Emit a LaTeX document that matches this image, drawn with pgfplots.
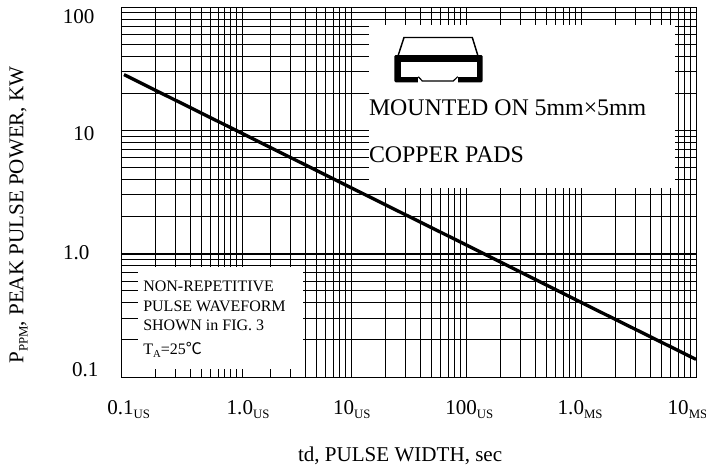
\documentclass[border=0pt]{standalone}
\usepackage{pgfplots}
\pgfplotsset{compat=1.18}
\usepackage{fontspec}
\setmainfont{Liberation Serif}
\newfontfamily\cjk{Noto Sans CJK SC}
\newcommand{\lab}{\fontsize{15.8pt}{18pt}\selectfont}
\newcommand{\sub}[1]{\raisebox{-0.2em}{\fontsize{9.6pt}{11pt}\selectfont #1}}
\begin{document}
\begin{tikzpicture}
\useasboundingbox (-90.75pt,-69pt) rectangle (438.75pt,282.75pt);
\begin{axis}[
  scale only axis, width=431.25pt, height=277.5pt,
  xmode=log, ymode=log, xmin=0.1, xmax=10000, ymin=0.1, ymax=100,
  axis line style={line width=0.7pt},
  major tick length=0pt, minor tick num=0,
  xtick={0.2,0.3,0.4,0.5,0.6,0.7,0.8,0.9,1,1.13,2,3,4,5,6,7,8,9,10,20,30,40,50,60,70,80,90,100,200,300,400,500,600,700,800,900,1000,2000,3000,4000,5000,6000,7000,8000,9000},
  ytick={0.2,0.3,0.4,0.5,0.6,0.7,0.8,0.9,2,3,4,5,6,7,8,9,10,20,30,40,50,60,70,80,90},
  xticklabels={}, yticklabels={},
  extra y ticks={1}, extra y tick labels={},
  extra y tick style={grid=major, major grid style={black, line width=1.3pt}},
  grid=major,
  major grid style={black, line width=0.6pt},
]
\fill[white] (rel axis cs:0.4313,0.511) rectangle (rel axis cs:0.9635,0.951);
\fill[white] (rel axis cs:0.0296,0.0216) rectangle (rel axis cs:0.3165,0.2973);
\addplot[black, line width=2.5pt, no markers] coordinates {
 (0.1062,28.3) (1,10) (10,3.43) (100,1.18) (1000,0.403) (10000,0.139)};
\end{axis}
\begin{scope}[x=0.75pt,y=-0.75pt,shift={(-90.75pt,282.75pt)},every node/.style={inner sep=0pt,outer sep=0pt}]
% y labels
\node[anchor=base east] at (94.5,23.3) {\lab 100};
\node[anchor=base east] at (94.5,140) {\lab 10};
\node[anchor=base east] at (89.5,259) {\lab 1.0};
\node[anchor=base east] at (98.5,376) {\lab 0.1};
% x labels
\node[anchor=base west] at (107.3,414) {\lab 0.1\sub{US}};
\node[anchor=base west] at (226.7,414) {\lab 1.0\sub{US}};
\node[anchor=base west] at (333,414) {\lab 10\sub{US}};
\node[anchor=base west] at (445.3,414) {\lab 100\sub{US}};
\node[anchor=base west] at (557.7,414) {\lab 1.0\sub{MS}};
\node[anchor=base west] at (667.7,414) {\lab 10\sub{MS}};
\node[anchor=base west] at (298,461.7) {\lab td, PULSE WIDTH, sec};
\node[anchor=base west,rotate=90] at (23.5,363.5) {\lab P\sub{PPM}, PEAK PULSE POWER, KW};
% box text
\node[anchor=base west] at (369,115) {\fontsize{17.9pt}{20pt}\selectfont MOUNTED ON 5mm×5mm};
\node[anchor=base west] at (369,162.7) {\fontsize{17.9pt}{20pt}\selectfont COPPER PADS};
\node[anchor=base west] at (143.3,291.7) {\fontsize{12pt}{14pt}\selectfont NON-REPETITIVE};
\node[anchor=base west] at (143.3,311) {\fontsize{12pt}{14pt}\selectfont PULSE WAVEFORM};
\node[anchor=base west] at (143.3,330) {\fontsize{12pt}{14pt}\selectfont SHOWN in FIG. 3};
\node[anchor=base west] at (143.3,354) {\fontsize{12pt}{14pt}\selectfont T\raisebox{-0.2em}{\fontsize{8pt}{9pt}\selectfont A}=25{\cjk ℃}};
% package icon
\draw[line width=1.1pt,line join=miter] (398.3,55) -- (404,37.5) -- (472.3,37.5) -- (477.7,55);
\fill[black,rounded corners=1pt] (394.3,55) rectangle (482.7,82.3);
\fill[white] (400.7,61.7) rectangle (476.7,76.7);
\fill[white] (418.3,76) rectangle (457.7,83.5);
\draw[line width=0.9pt] (418.3,76.7) -- (422.3,81) -- (453.3,81) -- (457.7,76.7);
\end{scope}
\end{tikzpicture}
\end{document}
